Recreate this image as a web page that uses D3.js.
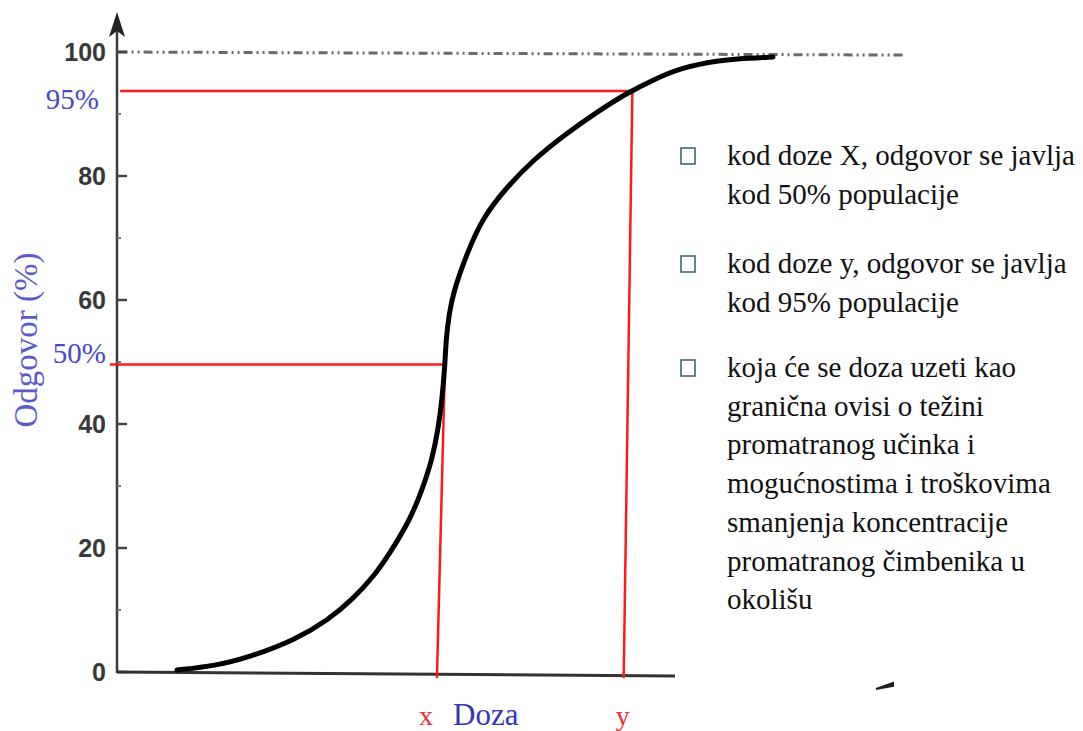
<!DOCTYPE html>
<html lang="hr">
	<head>
		<meta charset="utf-8">
		<title>Odgovor - doza</title>
		<script src="https://d3js.org/d3.v7.min.js"></script>
		<style type="text/css">
			body { margin: 0; background: #fff; }
		</style>
	</head>
	<body>
		<script type="text/javascript">

			// curve (dose in arbitrary units 0-100, response in %)
			var doseValues = [7.61, 12.44, 16.88, 22.59, 26.78, 29.82, 32.74, 34.64, 37.18, 38.71, 39.97, 40.74, 41.24, 41.62,
							  41.75, 42.13, 42.64, 44.42, 46.45, 49.49, 52.79, 57.11, 60.91, 64.72, 68.02, 71.45, 76.52, 80.33, 83.25];
			var responseValues = [0.32, 0.97, 2.42, 5.16, 8.39, 11.61, 15.65, 19.19, 24.52, 29.35, 34.19, 39.03, 43.87, 49.52,
								  53.55, 57.58, 61.13, 67.58, 73.39, 78.23, 82.58, 86.94, 90.32, 93.39, 95.48, 97.42, 98.71, 99.03, 99.19];

			// x and y marker lines
			var markerLevels = [49.6, 93.7];
			var markerLabels = ["50%", "95%"];
			var markerDoseTop = [41.62, 65.4];
			var markerDoseBase = [40.6, 64.3];
			var markerStart = [-0.9, 0.4];
			var doseLabels = ["x", "y"];

			var yTicks = [0, 20, 40, 60, 80, 100];
			var yMinorTicks = [10, 30, 50, 70, 90];

			var bullets = [
				["kod doze X, odgovor se javlja", "kod 50% populacije"],
				["kod doze y, odgovor se javlja", "kod 95% populacije"],
				["koja će se doza uzeti kao", "granična ovisi o težini", "promatranog učinka i", "mogućnostima i troškovima", "smanjenja koncentracije", "promatranog čimbenika u", "okolišu"]
			];

			var w = 1083;
			var h = 731;
			var serif = "'Liberation Serif', 'Times New Roman', serif";

			var svg = d3.select("body")
						.append("svg")
						.attr("width", w)
						.attr("height", h);

			var x = d3.scaleLinear().domain([0, 100]).range([117, 905]);
			var y = d3.scaleLinear().domain([0, 100]).range([672, 52]);

			//100% reference line (dash-dot)
			svg.append("line")
			   .attr("x1", x(0.2)).attr("y1", y(100))
			   .attr("x2", x(100)).attr("y2", y(99.5))
			   .attr("stroke", "#6a6a6a")
			   .attr("stroke-width", 3)
			   .attr("stroke-dasharray", "9,4,2,4,2,4");

			//y axis with arrow
			svg.append("line")
			   .attr("x1", x(0)).attr("y1", y(0) + 1)
			   .attr("x2", x(0)).attr("y2", 24)
			   .attr("stroke", "#3a3a3a")
			   .attr("stroke-width", 2.5);
			svg.append("path")
			   .attr("d", "M" + x(0) + ",12 L" + (x(0) - 8) + ",37 L" + x(0) + ",31 L" + (x(0) + 8) + ",37 Z")
			   .attr("fill", "#222");

			svg.selectAll(".tick")
			   .data(yTicks)
			   .enter()
			   .append("line")
			   .attr("x1", x(0)).attr("x2", x(0) + 10)
			   .attr("y1", function(d) { return y(d); })
			   .attr("y2", function(d) { return y(d); })
			   .attr("stroke", "#444")
			   .attr("stroke-width", 2.5);

			svg.selectAll(".minor")
			   .data(yMinorTicks)
			   .enter()
			   .append("line")
			   .attr("x1", x(0)).attr("x2", x(0) + 4)
			   .attr("y1", function(d) { return y(d); })
			   .attr("y2", function(d) { return y(d); })
			   .attr("stroke", "#777")
			   .attr("stroke-width", 2);

			svg.selectAll(".ticklabel")
			   .data(yTicks)
			   .enter()
			   .append("text")
			   .attr("x", 106)
			   .attr("y", function(d) { return y(d) + 9; })
			   .attr("text-anchor", "end")
			   .attr("font-family", "'Liberation Sans', Arial, sans-serif")
			   .attr("font-weight", "bold")
			   .attr("font-size", 25)
			   .attr("fill", "#383838")
			   .text(function(d) { return d; });

			//x axis (cut off by the text box)
			svg.append("line")
			   .attr("x1", x(0)).attr("y1", y(0))
			   .attr("x2", 675).attr("y2", y(0) + 4)
			   .attr("stroke", "#333")
			   .attr("stroke-width", 3);
			svg.append("path")
			   .attr("d", "M876,689 L893,683 L893,686 Z")
			   .attr("fill", "#222")
			   .attr("stroke", "#222")
			   .attr("stroke-width", 2);

			//y axis title
			svg.append("text")
			   .attr("transform", "translate(37,340) rotate(-90)")
			   .attr("text-anchor", "middle")
			   .attr("font-family", serif)
			   .attr("font-size", 33)
			   .attr("fill", "#5a5acd")
			   .text("Odgovor (%)");

			//red marker lines
			var idx = d3.range(markerLevels.length);
			svg.selectAll(".hline")
			   .data(idx)
			   .enter()
			   .append("line")
			   .attr("x1", function(i) { return x(markerStart[i]); })
			   .attr("x2", function(i) { return x(markerDoseTop[i]); })
			   .attr("y1", function(i) { return y(markerLevels[i]); })
			   .attr("y2", function(i) { return y(markerLevels[i]); })
			   .attr("stroke", "#ff1a1a")
			   .attr("stroke-width", 2.5);

			svg.selectAll(".vline")
			   .data(idx)
			   .enter()
			   .append("line")
			   .attr("x1", function(i) { return x(markerDoseTop[i]); })
			   .attr("x2", function(i) { return x(markerDoseBase[i]); })
			   .attr("y1", function(i) { return y(markerLevels[i]); })
			   .attr("y2", y(0) + 6)
			   .attr("stroke", "#ff1a1a")
			   .attr("stroke-width", 2.5);

			svg.selectAll(".mlabel")
			   .data(idx)
			   .enter()
			   .append("text")
			   .attr("x", function(i) { return i == 0 ? 106 : 99; })
			   .attr("y", function(i) { return y(markerLevels[i]) + (i == 0 ? -1 : 18); })
			   .attr("text-anchor", "end")
			   .attr("font-family", serif)
			   .attr("font-size", 29)
			   .attr("fill", "#4848c8")
			   .text(function(i) { return markerLabels[i]; });

			svg.selectAll(".dlabel")
			   .data(idx)
			   .enter()
			   .append("text")
			   .attr("x", function(i) { return x(markerDoseBase[i]) + (i == 0 ? -11 : -1); })
			   .attr("y", 725)
			   .attr("text-anchor", "middle")
			   .attr("font-family", serif)
			   .attr("font-size", 28)
			   .attr("fill", "#e83030")
			   .text(function(i) { return doseLabels[i]; });

			svg.append("text")
			   .attr("x", 453)
			   .attr("y", 725)
			   .attr("font-family", serif)
			   .attr("font-size", 31)
			   .attr("fill", "#3535bb")
			   .text("Doza");

			//dose-response curve
			var line = d3.line()
						 .x(function(d, i) { return x(doseValues[i]); })
						 .y(function(d, i) { return y(responseValues[i]); })
						 .curve(d3.curveBasis);

			svg.append("path")
			   .attr("d", line(doseValues))
			   .attr("fill", "none")
			   .attr("stroke", "#000")
			   .attr("stroke-width", 5)
			   .attr("stroke-linecap", "round");

			//bullet text
			var bulletY = [165, 273, 377];
			var lh = 38.7;
			bullets.forEach(function(lines, b) {
				svg.append("rect")
				   .attr("x", 681).attr("y", bulletY[b] - 17)
				   .attr("width", 14).attr("height", 16)
				   .attr("fill", "none")
				   .attr("stroke", "#2e5f70")
				   .attr("stroke-width", 1.5);
				svg.selectAll(".b" + b)
				   .data(lines)
				   .enter()
				   .append("text")
				   .attr("x", 727)
				   .attr("y", function(d, i) { return bulletY[b] + i * lh; })
				   .attr("font-family", serif)
				   .attr("font-size", 29)
				   .attr("fill", "#111")
				   .text(function(d) { return d; });
			});
		</script>
	</body>
</html>
